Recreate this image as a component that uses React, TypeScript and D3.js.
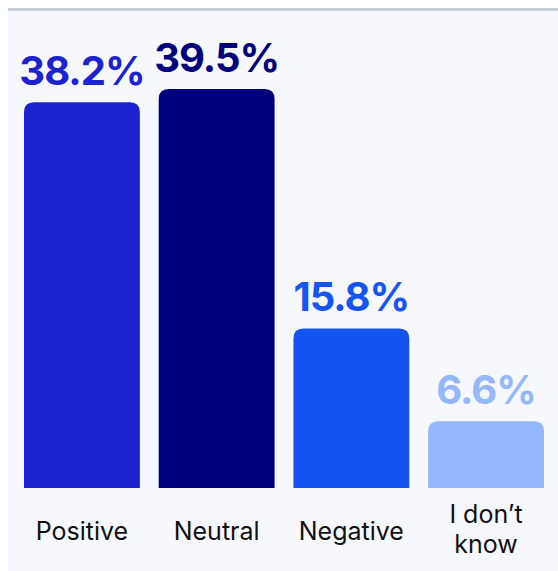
import React from "react";
import * as d3 from "d3";

const categories = ["Positive", "Neutral", "Negative", "I don’t know"];
const values = [38.2, 39.5, 15.8, 6.6];
const colors = ["#1b23d1", "#00007f", "#1454f1", "#93b8fb"];

const W = 558;
const H = 571;

function topRoundedRect(x: number, y: number, w: number, h: number, r: number) {
  const rr = Math.min(r, h, w / 2);
  return `M${x},${y + h}V${y + rr}Q${x},${y} ${x + rr},${y}H${x + w - rr}Q${x + w},${y} ${x + w},${y + rr}V${y + h}Z`;
}

export default function App() {
  const x = d3.scaleBand<string>().domain(categories).range([24, 544]).paddingInner(0.14);
  const y = d3.scaleLinear().domain([0, d3.max(values) as number]).range([488, 89]);
  const font = "Inter, 'Noto Sans', sans-serif";

  return (
    <svg
      width={W}
      height={H}
      style={{ position: "absolute", left: 0, top: 0, background: "#ffffff" }}
    >
      <rect x={8} y={8} width={W - 8} height={H - 8} fill="#f7f8fe" />
      <rect x={8} y={8} width={W - 8} height={3} fill="#c5cdd6" />
      {categories.map((c, i) => {
        const bx = x(c) as number;
        const bw = x.bandwidth();
        const by = y(values[i]);
        const cx = bx + bw / 2;
        const lines = c === "I don’t know" ? ["I don’t", "know"] : [c];
        return (
          <g key={c}>
            <path d={topRoundedRect(bx, by, bw, y(0) - by, 10)} fill={colors[i]} />
            <text
              x={cx}
              y={by - 17}
              textAnchor="middle"
              fontFamily={font}
              fontWeight={700}
              fontSize={40}
              fill={colors[i]}
              letterSpacing={-1}
            >
              {values[i].toFixed(1)}%
            </text>
            {lines.map((l, j) => (
              <text
                key={l}
                x={cx}
                y={lines.length === 1 ? 540 : 523 + j * 30}
                textAnchor="middle"
                fontFamily={font}
                fontSize={25}
                fill="#111111"
              >
                {l}
              </text>
            ))}
          </g>
        );
      })}
    </svg>
  );
}
